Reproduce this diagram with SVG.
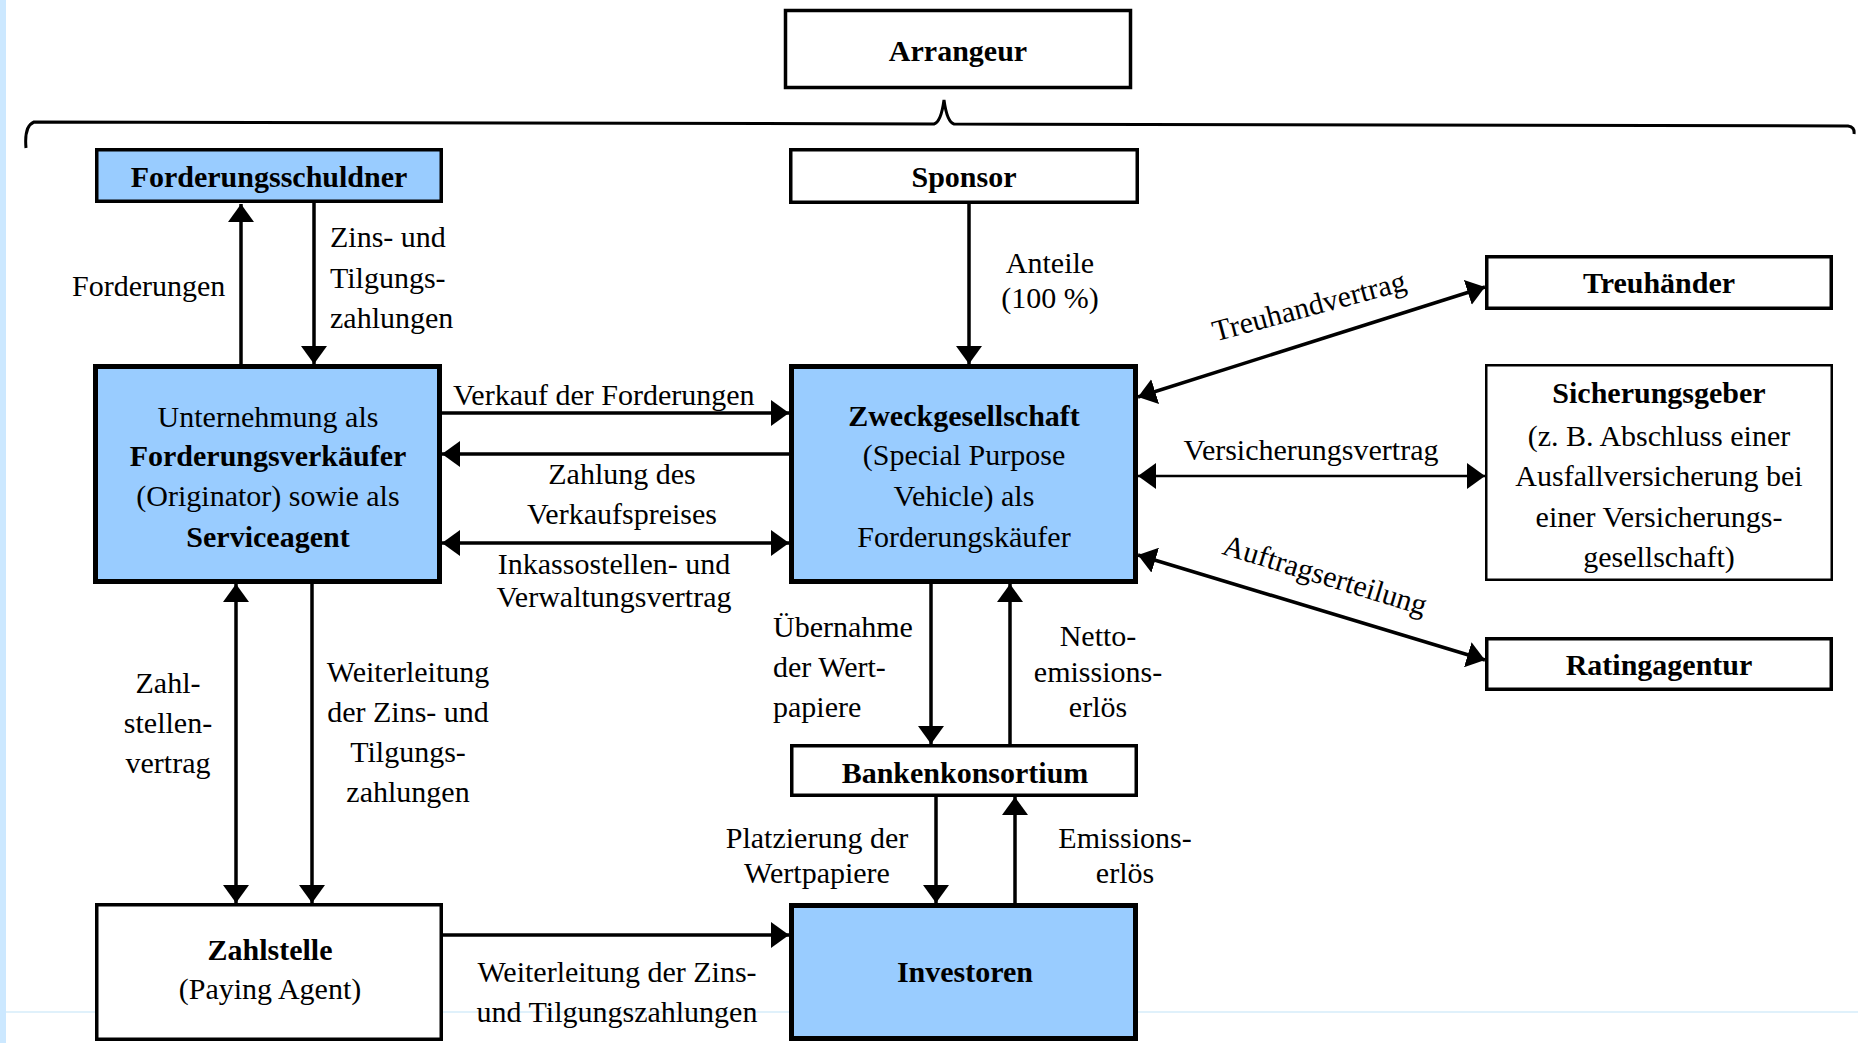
<svg xmlns="http://www.w3.org/2000/svg" width="1858" height="1043" viewBox="0 0 1858 1043">
<style>
text{font-family:"Liberation Serif","Times New Roman",serif;font-size:30px;fill:#000}
.b{font-weight:bold}
.m{text-anchor:middle}
.box{fill:#fff;stroke:#000;stroke-width:3.5}
.blue{fill:#99CCFF;stroke:#000;stroke-width:3.5}
.big{fill:#99CCFF;stroke:#000;stroke-width:5}
.c{stroke:#000;stroke-width:3.5;fill:none}
</style>
<defs>
<marker id="ah" viewBox="0 0 18 26" refX="18" refY="13" markerWidth="18" markerHeight="26" markerUnits="userSpaceOnUse" orient="auto-start-reverse">
<path d="M0,0 L18,13 L0,26 z" fill="#000"/>
</marker>
</defs>
<rect x="0" y="0" width="1858" height="1043" fill="#fff"/>
<rect x="0" y="0" width="6" height="1043" fill="#CCE8FF"/>
<line x1="6" y1="1012" x2="1858" y2="1012" stroke="#D6ECFA" stroke-width="1.5"/>

<path d="M26,148 Q24,126 34,122 L934,124 Q941,122 944,100 Q947,122 954,124 L1848,126 Q1855,127 1854,134" fill="none" stroke="#000" stroke-width="3"/>

<g id="arrangeur"><rect class="box" x="785.5" y="10.5" width="345" height="77"/><text class="b m" x="958" y="61">Arrangeur</text></g>
<g id="forderungsschuldner"><rect class="blue" x="96.75" y="149.75" width="344.5" height="51.5"/><text class="b m" x="269" y="187">Forderungsschuldner</text></g>
<g id="sponsor"><rect class="box" x="790.75" y="149.75" width="346.5" height="52.5"/><text class="b m" x="964" y="187">Sponsor</text></g>
<g id="unternehmung"><rect class="big" x="95.5" y="366.5" width="344" height="215"/>
<text class="m" x="268" y="427">Unternehmung als</text>
<text class="b m" x="268" y="466">Forderungsverkäufer</text>
<text class="m" x="268" y="506">(Originator) sowie als</text>
<text class="b m" x="268" y="547">Serviceagent</text></g>
<g id="zweckgesellschaft"><rect class="big" x="791.5" y="366.5" width="344" height="215"/>
<text class="b m" x="964" y="426">Zweckgesellschaft</text>
<text class="m" x="964" y="465">(Special Purpose</text>
<text class="m" x="964" y="506">Vehicle) als</text>
<text class="m" x="964" y="547">Forderungskäufer</text></g>
<g id="treuhaender"><rect class="box" x="1486.75" y="256.75" width="344.5" height="51.5"/><text class="b m" x="1659" y="293">Treuhänder</text></g>
<g id="sicherungsgeber"><rect class="box" x="1486.25" y="365.25" width="345.5" height="214.5" style="stroke-width:2.5"/>
<text class="b m" x="1659" y="403">Sicherungsgeber</text>
<text class="m" x="1659" y="446">(z. B. Abschluss einer</text>
<text class="m" x="1659" y="486">Ausfallversicherung bei</text>
<text class="m" x="1659" y="527">einer Versicherungs-</text>
<text class="m" x="1659" y="567">gesellschaft)</text></g>
<g id="ratingagentur"><rect class="box" x="1486.75" y="638.75" width="344.5" height="50.5"/><text class="b m" x="1659" y="675">Ratingagentur</text></g>
<g id="bankenkonsortium"><rect class="box" x="791.75" y="745.75" width="344.5" height="49.5"/><text class="b m" x="965" y="783">Bankenkonsortium</text></g>
<g id="zahlstelle"><rect class="box" x="96.75" y="904.75" width="344.5" height="134.5"/>
<text class="b m" x="270" y="960">Zahlstelle</text>
<text class="m" x="270" y="999">(Paying Agent)</text></g>
<g id="investoren"><rect class="big" x="791.5" y="905.5" width="344" height="133"/><text class="b m" x="965" y="982">Investoren</text></g>

<g id="connectors">
<line class="c" x1="241" y1="364" x2="241" y2="204" marker-end="url(#ah)"/>
<line class="c" x1="314" y1="203" x2="314" y2="364" marker-end="url(#ah)"/>
<line class="c" x1="969" y1="204" x2="969" y2="364" marker-end="url(#ah)"/>
<line class="c" x1="442" y1="413" x2="789" y2="413" marker-end="url(#ah)"/>
<line class="c" x1="789" y1="454" x2="442" y2="454" marker-end="url(#ah)"/>
<line class="c" x1="442" y1="543" x2="789" y2="543" marker-start="url(#ah)" marker-end="url(#ah)"/>
<line class="c" x1="1138" y1="397" x2="1485" y2="287" marker-start="url(#ah)" marker-end="url(#ah)"/>
<line class="c" x1="1138" y1="476" x2="1485" y2="476" marker-start="url(#ah)" marker-end="url(#ah)" style="stroke-width:2.5"/>
<line class="c" x1="1138" y1="555" x2="1485" y2="660" marker-start="url(#ah)" marker-end="url(#ah)"/>
<line class="c" x1="236" y1="584" x2="236" y2="903" marker-start="url(#ah)" marker-end="url(#ah)"/>
<line class="c" x1="312" y1="584" x2="312" y2="903" marker-end="url(#ah)"/>
<line class="c" x1="931" y1="584" x2="931" y2="744" marker-end="url(#ah)"/>
<line class="c" x1="1010" y1="744" x2="1010" y2="584" marker-end="url(#ah)"/>
<line class="c" x1="936" y1="797" x2="936" y2="903" marker-end="url(#ah)"/>
<line class="c" x1="1015" y1="903" x2="1015" y2="797" marker-end="url(#ah)"/>
<line class="c" x1="443" y1="935" x2="789" y2="935" marker-end="url(#ah)"/>
</g>

<g id="labels">
<text x="72" y="296">Forderungen</text>
<text x="330" y="247">Zins- und</text>
<text x="330" y="288">Tilgungs-</text>
<text x="330" y="328">zahlungen</text>
<text class="m" x="1050" y="273">Anteile</text>
<text class="m" x="1050" y="308">(100 %)</text>
<text x="453" y="405">Verkauf der Forderungen</text>
<text class="m" x="622" y="484">Zahlung des</text>
<text class="m" x="622" y="524">Verkaufspreises</text>
<text class="m" x="614" y="574">Inkassostellen- und</text>
<text class="m" x="614" y="607">Verwaltungsvertrag</text>
<text class="m" transform="translate(1309,306) rotate(-15)" x="0" y="10">Treuhandvertrag</text>
<text class="m" x="1311" y="460">Versicherungsvertrag</text>
<text class="m" transform="translate(1325,575) rotate(17)" x="0" y="10">Auftragserteilung</text>
<text class="m" x="168" y="693">Zahl-</text>
<text class="m" x="168" y="733">stellen-</text>
<text class="m" x="168" y="773">vertrag</text>
<text class="m" x="408" y="682">Weiterleitung</text>
<text class="m" x="408" y="722">der Zins- und</text>
<text class="m" x="408" y="762">Tilgungs-</text>
<text class="m" x="408" y="802">zahlungen</text>
<text x="773" y="637">Übernahme</text>
<text x="773" y="677">der Wert-</text>
<text x="773" y="717">papiere</text>
<text class="m" x="1098" y="646">Netto-</text>
<text class="m" x="1098" y="682">emissions-</text>
<text class="m" x="1098" y="717">erlös</text>
<text class="m" x="817" y="848">Platzierung der</text>
<text class="m" x="817" y="883">Wertpapiere</text>
<text class="m" x="1125" y="848">Emissions-</text>
<text class="m" x="1125" y="883">erlös</text>
<text class="m" x="617" y="982">Weiterleitung der Zins-</text>
<text class="m" x="617" y="1022">und Tilgungszahlungen</text>
</g>
</svg>
